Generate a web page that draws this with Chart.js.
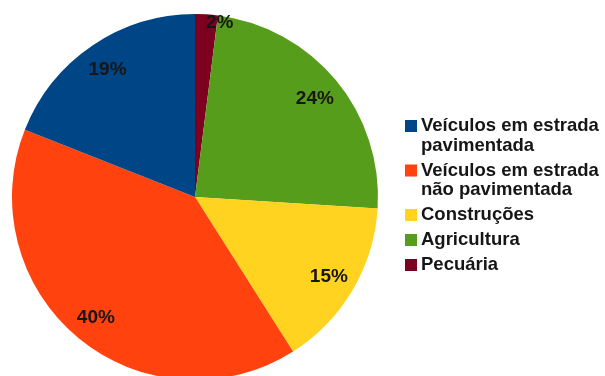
<!DOCTYPE html>
<html>
<head>
<meta charset="utf-8">
<script src="https://cdn.jsdelivr.net/npm/chart.js@4"></script>
<style>
  html, body { margin: 0; padding: 0; background: #fff; }
  #wrap { width: 605px; height: 376px; overflow: hidden; position: relative; }
  canvas { display: block; }
</style>
</head>
<body>
<div id="wrap"><canvas id="pie" width="605" height="400"></canvas></div>
<script>
// legend order
var categories = ['Veículos em estrada pavimentada', 'Veículos em estrada não pavimentada', 'Construções', 'Agricultura', 'Pecuária'];
var shares = [19, 40, 15, 24, 2];
var colors = ['#004586', '#ff420e', '#ffd320', '#579d1c', '#7e0021'];

// the pie runs clockwise from the top starting with the last category
var pieLabels = categories.slice().reverse();
var pieData = shares.slice().reverse();
var pieColors = colors.slice().reverse();

var textColor = '#161616';
var fontFamily = '"Liberation Sans", Arial, sans-serif';

var percentLabels = {
  id: 'percentLabels',
  afterDatasetsDraw: function(chart) {
    var ctx = chart.ctx;
    var meta = chart.getDatasetMeta(0);
    var total = pieData.reduce(function(a, b) { return a + b; }, 0);
    ctx.save();
    ctx.font = 'bold 19px ' + fontFamily;
    ctx.fillStyle = textColor;
    ctx.textBaseline = 'middle';
    meta.data.forEach(function(arc, i) {
      var p = arc.getProps(['x', 'y', 'startAngle', 'endAngle', 'outerRadius'], true);
      var mid = (p.startAngle + p.endAngle) / 2;
      var pct = pieData[i] / total * 100;
      var f = 0.85;
      ctx.textAlign = 'center';
      if (pct < 5) { f = 0.96; ctx.textAlign = 'left'; }
      var x = p.x + Math.cos(mid) * p.outerRadius * f;
      var y = p.y + Math.sin(mid) * p.outerRadius * f;
      ctx.fillText(Math.round(pct) + '%', x, y + 1);
    });
    ctx.restore();
  }
};

var sideLegend = {
  id: 'sideLegend',
  afterDraw: function(chart) {
    var ctx = chart.ctx;
    var boxX = 405, textX = 421, maxW = 186;
    var lineH = 19.5, gap = 5.5;
    var baseline = 131;
    ctx.save();
    ctx.font = 'bold 18.5px ' + fontFamily;
    ctx.textAlign = 'left';
    ctx.textBaseline = 'alphabetic';
    categories.forEach(function(name, i) {
      // greedy word wrap
      var words = name.split(' ');
      var lines = [];
      var cur = '';
      words.forEach(function(w) {
        var test = cur ? cur + ' ' + w : w;
        if (cur && ctx.measureText(test).width > maxW) {
          lines.push(cur);
          cur = w;
        } else {
          cur = test;
        }
      });
      lines.push(cur);

      ctx.fillStyle = colors[i];
      ctx.fillRect(boxX, baseline - 11, 12, 12);
      ctx.fillStyle = textColor;
      lines.forEach(function(l, k) {
        ctx.fillText(l, textX, baseline + k * lineH);
      });
      baseline += lines.length * lineH + gap;
    });
    ctx.restore();
  }
};

new Chart(document.getElementById('pie'), {
  type: 'pie',
  data: {
    labels: pieLabels,
    datasets: [{
      data: pieData,
      backgroundColor: pieColors,
      borderWidth: 0
    }]
  },
  options: {
    responsive: false,
    animation: false,
    devicePixelRatio: 1,
    layout: { padding: { left: 12, top: 14, right: 227, bottom: 20 } },
    plugins: {
      legend: { display: false },
      tooltip: { enabled: false }
    }
  },
  plugins: [percentLabels, sideLegend]
});
</script>
</body>
</html>
